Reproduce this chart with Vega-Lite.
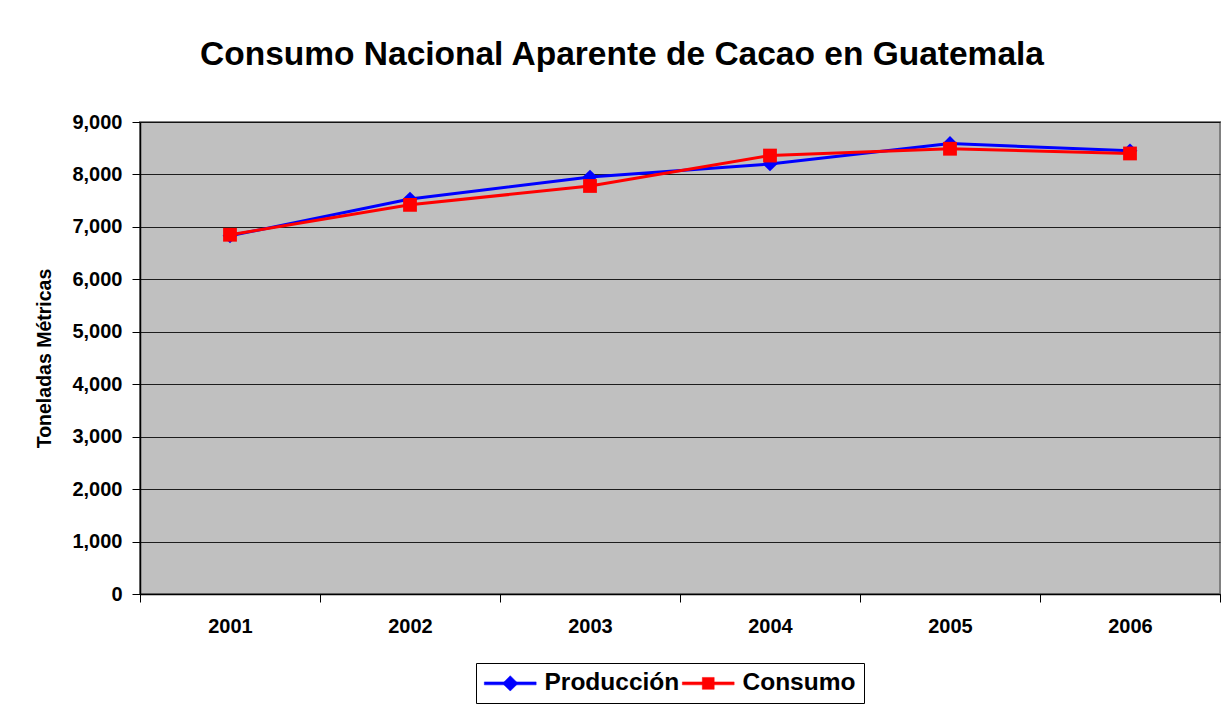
{
  "$schema": "https://vega.github.io/schema/vega-lite/v6.json",
  "autosize": {"type": "none"},
  "padding": {"left": 140, "top": 122, "right": 5, "bottom": 115},
  "width": 1080,
  "height": 472,
  "background": "white",
  "title": {
    "text": "Consumo Nacional Aparente de Cacao en Guatemala",
    "font": "Liberation Sans",
    "fontSize": 33.5,
    "fontWeight": "bold",
    "color": "black",
    "anchor": "middle",
    "frame": "group",
    "dx": -58,
    "offset": 40
  },
  "config": {
    "font": "Liberation Sans",
    "view": {"fill": "#C0C0C0", "stroke": "#808080", "strokeWidth": 2}
  },
  "data": {
    "values": [
      {"year": "2001", "serie": "Producción", "valor": 6830},
      {"year": "2002", "serie": "Producción", "valor": 7530},
      {"year": "2003", "serie": "Producción", "valor": 7950},
      {"year": "2004", "serie": "Producción", "valor": 8200},
      {"year": "2005", "serie": "Producción", "valor": 8590},
      {"year": "2006", "serie": "Producción", "valor": 8450},
      {"year": "2001", "serie": "Consumo", "valor": 6850},
      {"year": "2002", "serie": "Consumo", "valor": 7420},
      {"year": "2003", "serie": "Consumo", "valor": 7780},
      {"year": "2004", "serie": "Consumo", "valor": 8360},
      {"year": "2005", "serie": "Consumo", "valor": 8490},
      {"year": "2006", "serie": "Consumo", "valor": 8400}
    ]
  },
  "encoding": {
    "x": {
      "field": "year",
      "type": "ordinal",
      "bandPosition": 0.5,
      "scale": {"type": "band", "paddingInner": 0, "paddingOuter": 0},
      "axis": {
        "title": null,
        "labelAngle": 0,
        "labelFont": "Liberation Sans",
        "labelFontSize": 20,
        "labelFontWeight": "bold",
        "labelColor": "black",
        "labelPadding": 14,
        "tickBand": "extent",
        "tickSize": 8,
        "tickColor": "black",
        "domainColor": "black",
        "domainWidth": 1.5,
        "grid": false
      }
    },
    "y": {
      "field": "valor",
      "type": "quantitative",
      "scale": {"domain": [0, 9000], "nice": false},
      "axis": {
        "title": "Toneladas Métricas",
        "titleFont": "Liberation Sans",
        "titleFontSize": 19.5,
        "titleFontWeight": "bold",
        "titleColor": "black",
        "titlePadding": 17,
        "values": [0, 1000, 2000, 3000, 4000, 5000, 6000, 7000, 8000, 9000],
        "format": ",.0f",
        "labelFont": "Liberation Sans",
        "labelFontSize": 20,
        "labelFontWeight": "bold",
        "labelColor": "black",
        "labelPadding": 10,
        "tickSize": 8,
        "tickColor": "black",
        "domainColor": "black",
        "domainWidth": 1.5,
        "grid": true,
        "gridColor": "black",
        "gridWidth": 1,
        "gridOpacity": 0.85
      }
    },
    "color": {
      "field": "serie",
      "type": "nominal",
      "sort": ["Producción", "Consumo"],
      "scale": {"domain": ["Producción", "Consumo"], "range": ["#0000FF", "#FF0000"]},
      "legend": {
        "title": null,
        "orient": "none",
        "direction": "horizontal",
        "legendX": 336,
        "legendY": 541,
        "padding": 8,
        "strokeColor": "black",
        "fillColor": "white",
        "labelFont": "Liberation Sans",
        "labelFontSize": 24.5,
        "labelFontWeight": "bold",
        "labelColor": "black",
        "labelOffset": 36,
        "columnPadding": 1,
        "symbolSize": 196,
        "encode": {
          "symbols": {
            "update": {
              "shape": {"signal": "datum.value === 'Producción' ? 'M-1.7,-0.21H5.7V0.21H-1.7Z M2,-1.1L3.1,0L2,1.1L0.9,0Z' : 'M-1.7,-0.21H5.7V0.21H-1.7Z M1.15,-0.85H2.85V0.85H1.15Z'"},
              "fill": {"signal": "datum.value === 'Producción' ? '#0000FF' : '#FF0000'"},
              "stroke": {"signal": "datum.value === 'Producción' ? '#0000FF' : '#FF0000'"},
              "strokeWidth": {"value": 0.5},
              "opacity": {"value": 1},
              "fillOpacity": {"value": 1}
            }
          }
        }
      }
    }
  },
  "layer": [
    {
      "mark": {"type": "line", "strokeWidth": 3}
    },
    {
      "transform": [{"filter": "datum.serie === 'Producción'"}],
      "mark": {"type": "point", "filled": true, "shape": "diamond", "size": 220, "opacity": 1}
    },
    {
      "transform": [{"filter": "datum.serie === 'Consumo'"}],
      "mark": {"type": "point", "filled": true, "shape": "square", "size": 190, "opacity": 1}
    }
  ]
}
